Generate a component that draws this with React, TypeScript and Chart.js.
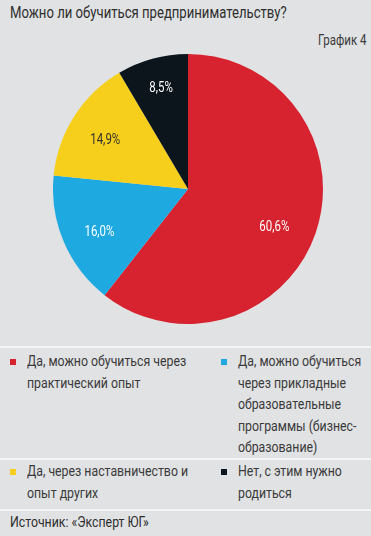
import React, { useEffect, useRef } from "react";
import { Chart, registerables } from "chart.js";

Chart.register(...registerables);

const categories = [
  "Да, можно обучиться через практический опыт",
  "Да, можно обучиться через прикладные образовательные программы (бизнес-образование)",
  "Да, через наставничество и опыт других",
  "Нет, с этим нужно родиться",
];
const values = [60.6, 16.0, 14.9, 8.5];
const valueLabels = ["60,6%", "16,0%", "14,9%", "8,5%"];
const colors = ["#d7232f", "#1ea9e1", "#f5cf1b", "#0d151c"];
const labelColors = ["#ffffff", "#ffffff", "#333333", "#ffffff"];
// label placement style: fraction of radius and angular nudge (degrees)
const labelRadius = [0.7, 0.73, 0.71, 0.77];
const labelNudge = [5, -3, -2.3, 0.3];

const FONT = "Roboto, 'DejaVu Sans', sans-serif";
const SX = 0.82;

const labelPlugin = {
  id: "sliceLabels",
  afterDatasetsDraw(chart: any) {
    const ctx = chart.ctx;
    const meta = chart.getDatasetMeta(0);
    meta.data.forEach((arc: any, i: number) => {
      const p = arc.getProps(["x", "y", "startAngle", "endAngle", "outerRadius"], true);
      const a = (p.startAngle + p.endAngle) / 2 + (labelNudge[i] * Math.PI) / 180;
      const r = p.outerRadius * labelRadius[i];
      ctx.save();
      ctx.translate(p.x + Math.cos(a) * r, p.y + Math.sin(a) * r);
      ctx.scale(SX, 1);
      ctx.font = `14px ${FONT}`;
      ctx.textAlign = "center";
      ctx.textBaseline = "middle";
      ctx.fillStyle = labelColors[i];
      ctx.fillText(valueLabels[i], 0, 0);
      ctx.restore();
    });
  },
};

function Narrow({ left, top, width, size, lh, color, children }: any) {
  return (
    <div
      style={{
        position: "absolute",
        left,
        top,
        width: width / SX,
        fontSize: size,
        lineHeight: lh,
        color,
        transform: `scaleX(${SX})`,
        transformOrigin: "0 0",
        whiteSpace: width > 300 ? "nowrap" : "normal",
      }}
    >
      {children}
    </div>
  );
}

function Legend({ idx, left, top, width }: { idx: number; left: number; top: number; width: number }) {
  return (
    <>
      <div style={{ position: "absolute", left: left - 17, top: top + 8, width: 6, height: 6, background: colors[idx] }} />
      <Narrow left={left} top={top} width={width} size={15} lh="21.5px" color="#3a3a3a">
        {categories[idx]}
      </Narrow>
    </>
  );
}

export default function App() {
  const ref = useRef<HTMLCanvasElement>(null);
  useEffect(() => {
    const chart = new Chart(ref.current!, {
      type: "pie",
      data: {
        labels: categories,
        datasets: [{ data: values, backgroundColor: colors, borderWidth: 0 }],
      },
      options: {
        responsive: false,
        animation: false,
        layout: { padding: 0 },
        plugins: { legend: { display: false }, tooltip: { enabled: false } },
      },
      plugins: [labelPlugin],
    });
    return () => chart.destroy();
  }, []);

  return (
    <div style={{ position: "fixed", left: 0, top: 0, width: 371, height: 536, background: "#e1e2e4", fontFamily: FONT, overflow: "hidden" }}>
      <Narrow left={10} top={3} width={400} size={16} lh="20px" color="#2e2e2e">Можно ли обучиться предпринимательству?</Narrow>
      <Narrow left={318} top={31} width={400} size={14} lh="18px" color="#3a3a3a">График 4</Narrow>
      <canvas ref={ref} width={270} height={270} style={{ position: "absolute", left: 53, top: 54, width: 270, height: 270 }} />
      <div style={{ position: "absolute", left: 0, top: 346, width: 371, height: 2, background: "#f4f4f5" }} />
      <div style={{ position: "absolute", left: 0, top: 458, width: 371, height: 2, background: "#f4f4f5" }} />
      <div style={{ position: "absolute", left: 0, top: 509, width: 371, height: 2, background: "#f4f4f5" }} />
      <Legend idx={0} left={27} top={351} width={168} />
      <Legend idx={1} left={238} top={351} width={128} />
      <Legend idx={2} left={27} top={461} width={168} />
      <Legend idx={3} left={238} top={461} width={128} />
      <Narrow left={10} top={512} width={400} size={15} lh="20px" color="#2e2e2e">Источник: «Эксперт ЮГ»</Narrow>
    </div>
  );
}
